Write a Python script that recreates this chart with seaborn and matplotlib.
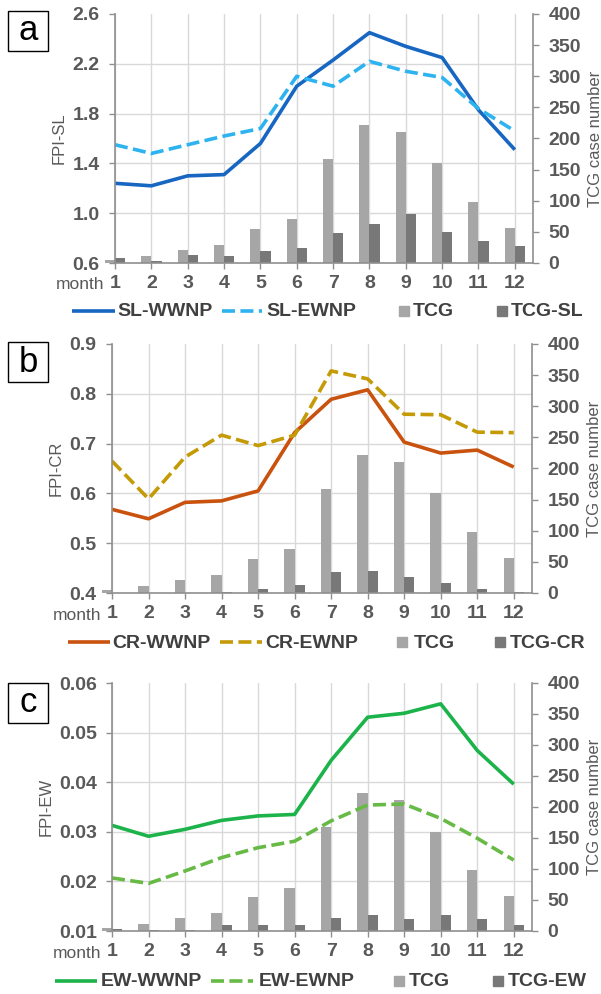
import numpy as np
import pandas as pd
import matplotlib
matplotlib.use("Agg")
import matplotlib.pyplot as plt
import seaborn as sns
from matplotlib.lines import Line2D
from matplotlib.patches import Rectangle
from matplotlib.ticker import FixedLocator, FormatStrFormatter

# ---------------- data ----------------
months = list(range(1, 13))

# total TC genesis cases per month and the subsets for each factor
tcg = [5, 11, 21, 29, 55, 70, 167, 222, 211, 160, 98, 57]
tcg_sl = [8, 3, 13, 11, 20, 24, 48, 63, 79, 49, 35, 27]
tcg_cr = [0, 0, 0, 1, 7, 13, 33, 35, 26, 16, 6, 1]
tcg_ew = [3, 2, 1.5, 10, 10, 9, 21, 26, 19, 26, 20, 9]

# FPI for the western / eastern WNP
sl_wwnp = [1.24, 1.22, 1.30, 1.31, 1.56, 2.02, 2.23, 2.45, 2.34, 2.25, 1.83, 1.51]
sl_ewnp = [1.55, 1.48, 1.55, 1.62, 1.68, 2.10, 2.02, 2.22, 2.14, 2.09, 1.84, 1.66]
cr_wwnp = [0.568, 0.549, 0.582, 0.585, 0.605, 0.722, 0.789, 0.808, 0.703, 0.681, 0.687, 0.653]
cr_ewnp = [0.665, 0.589, 0.673, 0.717, 0.696, 0.717, 0.846, 0.830, 0.759, 0.758, 0.723, 0.722]
ew_wwnp = [0.0313, 0.0291, 0.0305, 0.0323, 0.0332, 0.0335, 0.0444, 0.0531, 0.0539, 0.0558, 0.0464, 0.0396]
ew_ewnp = [0.0207, 0.0196, 0.0221, 0.0248, 0.0268, 0.0281, 0.0322, 0.0354, 0.0356, 0.0327, 0.0287, 0.0243]

# axis ticks
sl_ticks = [0.6, 1.0, 1.4, 1.8, 2.2, 2.6]
cr_ticks = [0.4, 0.5, 0.6, 0.7, 0.8, 0.9]
ew_ticks = [0.01, 0.02, 0.03, 0.04, 0.05, 0.06]
tcg_ticks = [0, 50, 100, 150, 200, 250, 300, 350, 400]

# ---------------- style ----------------
W, H = 601, 994
sns.set_theme(style="white")
plt.rcParams["font.family"] = ["Liberation Sans", "DejaVu Sans"]

TXT = "#595959"
LEG_TXT = "#404040"
SPINE = "#8f8f8f"
GRID = "#d9d9d9"
LIGHT = "#a6a6a6"
DARK = "#787878"
LW = 2.6
DASH = (3.6, 1.5)

fig = plt.figure(figsize=(W / 100, H / 100), dpi=100, facecolor="white")


def fx(x):
    return x / W


def fy(y):
    return 1 - y / H


panels = [
    dict(letter="a", ylabel="FPI-SL", west=sl_wwnp, east=sl_ewnp, sub=tcg_sl,
         names=("SL-WWNP", "SL-EWNP", "TCG", "TCG-SL"),
         colors=("#1666c2", "#2db3ef"), ticks=sl_ticks, fmt="%.1f",
         box=(115, 533, 14, 263), month_y=285, letter_y=31,
         leg_y=311, leg=((72, 115), 117, (222, 262), 266, 404, 413, 502, 511)),
    dict(letter="b", ylabel="FPI-CR", west=cr_wwnp, east=cr_ewnp, sub=tcg_cr,
         names=("CR-WWNP", "CR-EWNP", "TCG", "TCG-CR"),
         colors=("#c9520f", "#c49a06"), ticks=cr_ticks, fmt="%.1f",
         box=(112, 532, 344, 593), month_y=615, letter_y=362,
         leg_y=642, leg=((68, 110), 112, (220, 262), 265, 402, 414, 500, 510)),
    dict(letter="c", ylabel="FPI-EW", west=ew_wwnp, east=ew_ewnp, sub=tcg_ew,
         names=("EW-WWNP", "EW-EWNP", "TCG", "TCG-EW"),
         colors=("#1cb34a", "#67ba45"), ticks=ew_ticks, fmt="%.2f",
         box=(112, 532, 683, 931), month_y=953, letter_y=703,
         leg_y=981, leg=((55, 97), 101, (211, 253), 259, 399, 409, 498, 508)),
]

for p in panels:
    l, r, t, b = p["box"]
    ax = fig.add_axes([fx(l), fy(b), (r - l) / W, (b - t) / H])
    ax2 = ax.twinx()

    # ---- bars on the secondary axis ----
    bars = pd.DataFrame({
        "month": months * 2,
        "count": tcg + p["sub"],
        "series": [p["names"][2]] * 12 + [p["names"][3]] * 12,
    })
    sns.barplot(data=bars, x="month", y="count", hue="series",
                hue_order=[p["names"][2], p["names"][3]],
                palette=[LIGHT, DARK], native_scale=True, width=0.56, gap=0,
                saturation=1, errorbar=None, legend=False, linewidth=0, ax=ax2)
    for patch in ax2.patches:
        patch.set_clip_on(False)

    # ---- lines on the primary axis ----
    sns.lineplot(x=months, y=p["west"], ax=ax, color=p["colors"][0], linewidth=LW)
    sns.lineplot(x=months, y=p["east"], ax=ax, color=p["colors"][1], linewidth=LW)
    ax.lines[-1].set_dashes(DASH)
    for ln in ax.lines:
        ln.set_solid_capstyle("butt")
        ln.set_dash_capstyle("butt")

    # lines above bars, both backgrounds transparent
    ax.set_zorder(ax2.get_zorder() + 1)
    ax.patch.set_visible(False)
    ax2.patch.set_visible(False)

    # ---- scales ----
    ax.set_xlim(1, 12.5)
    ax.set_xticks(months)
    ax.set_xticklabels([str(m) for m in months])
    ax.set_ylim(p["ticks"][0], p["ticks"][-1])
    ax.set_yticks(p["ticks"])
    ax.yaxis.set_major_formatter(FormatStrFormatter(p["fmt"]))
    ax2.set_ylim(0, 400)
    ax2.set_yticks(tcg_ticks)
    ax2.yaxis.set_minor_locator(FixedLocator(np.linspace(0, 400, len(p["ticks"]))))

    # ---- grid (drawn behind bars) ----
    ax.grid(False)
    ax2.xaxis.set_visible(True)
    ax2.set_axisbelow(True)
    ax2.grid(True, which="major", axis="x", color=GRID, linewidth=1)
    ax2.grid(True, which="minor", axis="y", color=GRID, linewidth=1)
    ax2.grid(False, which="major", axis="y")
    ax2.tick_params(axis="x", which="both", length=0, labelbottom=False, labeltop=False)
    ax2.tick_params(axis="y", which="minor", length=0)

    # ---- spines ----
    for s in ax.spines.values():
        s.set_visible(False)
    ax.spines["left"].set_visible(True)
    ax.spines["left"].set_color(SPINE)
    ax.spines["left"].set_linewidth(1.2)
    for s in ["top", "left"]:
        ax2.spines[s].set_visible(False)
    for s in ["right", "bottom"]:
        ax2.spines[s].set_visible(True)
        ax2.spines[s].set_color(SPINE)
        ax2.spines[s].set_linewidth(1.2)

    # ---- ticks ----
    ax.tick_params(axis="y", direction="out", length=4, width=1, color=SPINE,
                   pad=7, labelsize=14, labelcolor=TXT, left=True)
    ax.tick_params(axis="x", direction="out", length=4, width=1, color=SPINE,
                   pad=5, labelsize=14, labelcolor=TXT, bottom=True)
    ax2.tick_params(axis="y", which="major", direction="out", length=4, width=1,
                    color=SPINE, pad=7, labelsize=14, labelcolor=TXT, right=True)
    for lab in ax.get_xticklabels() + ax.get_yticklabels() + ax2.get_yticklabels():
        lab.set_fontweight("bold")

    ax.set_xlabel("")
    ax2.set_xlabel("")
    ax.set_ylabel(p["ylabel"], fontsize=12, color=TXT, labelpad=4)
    ax2.set_ylabel("TCG case number", fontsize=12, color=TXT, labelpad=5)

    fig.text(fx(l - 11), fy(p["month_y"]), "month", ha="right", va="center",
             fontsize=12.5, color=TXT)

    # ---- panel letter ----
    cy = p["letter_y"]
    fig.add_artist(Rectangle((fx(8), fy(cy + 20)), 40 / W, 40 / H,
                             transform=fig.transFigure, fill=False,
                             edgecolor="black", linewidth=1))
    fig.text(fx(28), fy(cy), p["letter"], ha="center", va="center",
             fontsize=25, color="black")

    # ---- legend row ----
    (a0, a1), t1, (d0, d1), t2, s3, t3, s4, t4 = p["leg"]
    ly = fy(p["leg_y"])
    fig.add_artist(Line2D([fx(a0), fx(a1)], [ly, ly], transform=fig.transFigure,
                          color=p["colors"][0], linewidth=LW, solid_capstyle="butt"))
    dl = Line2D([fx(d0), fx(d1)], [ly, ly], transform=fig.transFigure,
                color=p["colors"][1], linewidth=LW, dash_capstyle="butt")
    dl.set_dashes(DASH)
    fig.add_artist(dl)
    fig.add_artist(Line2D([fx(s3)], [ly], transform=fig.transFigure, marker="s",
                          markersize=7, color=LIGHT, linewidth=0))
    fig.add_artist(Line2D([fx(s4)], [ly], transform=fig.transFigure, marker="s",
                          markersize=7, color=DARK, linewidth=0))
    for tx, name in zip((t1, t2, t3, t4), p["names"]):
        fig.text(fx(tx), ly - 1 / H, name, ha="left", va="center", fontsize=14,
                 fontweight="bold", color=LEG_TXT)

fig.savefig("out.png", dpi=100, facecolor="white")
